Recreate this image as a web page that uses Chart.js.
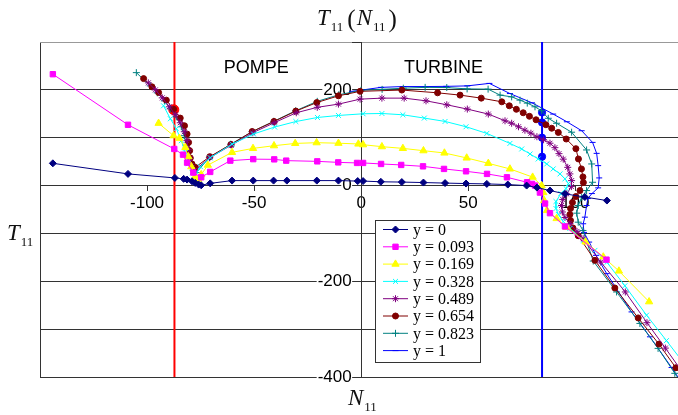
<!DOCTYPE html>
<html>
<head>
<meta charset="utf-8">
<script src="https://cdn.jsdelivr.net/npm/chart.js@4.4.0/dist/chart.umd.min.js"></script>
<style>
  html, body { margin: 0; padding: 0; background: #fff; }
  #wrap { width: 678px; height: 415px; }
</style>
</head>
<body>
<div id="wrap"><canvas id="c" width="678" height="415"></canvas></div>
<script>
// axes limits
const xMin = -150, xMax = 148;
const yMin = -400, yMax = 300;
const xTicks = [-150, -100, -50, 0, 50, 100];

// legend labels
const seriesLabels = ['y = 0', 'y = 0.093', 'y = 0.169', 'y = 0.328', 'y = 0.489', 'y = 0.654', 'y = 0.823', 'y = 1'];

// courbes T11(N11), points [N11, T11]
const serieY0 = [[-144,46.5],[-108.9,24.4],[-87,16],[-82.9,14],[-81.3,12.5],[-79,9],[-77.5,5.6],[-75.9,2.1],[-74.7,0.6],[-70.5,4.6],[-60.3,10.4],[-50.4,10.4],[-40.9,10.4],[-34.7,10.4],[-20.7,10.4],[-10.6,10.4],[-1.6,9.4],[0.9,9.4],[9.2,7.9],[19,7.3],[29.1,6.3],[39.2,5.2],[49,4.2],[58.7,3.5],[68.5,2.1],[77.3,0],[82.1,-4.2],[88.2,-10.4],[95.2,-17.3],[104.5,-24],[114.8,-31.3]];
const serieY093 = [[-144,232.7],[-108.9,127],[-87.3,76.5],[-83.2,64.6],[-81.3,47.9],[-78.4,27.1],[-74.7,17.3],[-70.5,28.5],[-61.1,52.1],[-50.4,55.2],[-40.6,54.8],[-35,52.1],[-20.5,50.6],[-10.7,48.5],[-1.9,47.3],[0.9,47.3],[9.3,45.2],[18.7,43.1],[28.9,40.2],[38.7,34.8],[49,29.8],[58.8,24.4],[68.1,17.3],[77.5,6.9],[79.8,3.5],[81.2,0],[83.5,-14.6],[85.9,-37.5],[88.2,-57.7],[95.2,-85.4],[114.6,-154.8]];
const serieY169 = [[-94.6,130.2],[-87.6,104.2],[-84.9,99],[-82.1,79.8],[-80.7,60.4],[-79.3,39.6],[-77.5,18.8],[-76.1,13.5],[-74.7,22.9],[-71.6,42.7],[-60.3,69.4],[-50.5,77.7],[-40.7,83.3],[-30.8,88.1],[-20.8,89.6],[-10.6,88.5],[-1.3,86.9],[0.9,85.4],[9.7,81.3],[19.5,77.7],[29.1,72.9],[38.9,68.1],[49.3,57.7],[59.4,46.5],[69.5,34.8],[80.1,17.7],[84.3,0],[85.1,-14.6],[85.5,-31.3],[86.8,-52.1],[91.3,-68.8],[96.1,-87.5],[104.8,-117.7],[113.1,-149],[120.4,-178.5],[134.5,-242.7]];
const serieY328 = [[-92.3,166.7],[-89.1,139.6],[-86.3,118.8],[-84,93.8],[-82.1,68.8],[-80.7,45.8],[-78.9,27.1],[-77.5,20.8],[-75.1,39.6],[-70.5,58.3],[-60.3,86.5],[-50.3,107.7],[-40.4,122.3],[-30.5,133.8],[-20.4,142.3],[-10.6,146.5],[0.9,150],[9.7,150.6],[19.5,147.9],[29.5,141],[39.2,134],[49,122.9],[58.7,109],[69.5,88.1],[75,76.5],[78.9,66],[82.7,55.6],[86.7,45.2],[89.7,34.8],[92.9,24.4],[95.2,14],[96.8,4.2],[95.7,-6.3],[93.3,-16.7],[91,-33.3],[91,-47.9],[92.1,-60.4],[94.4,-75],[97.5,-89.6],[103.7,-114.6],[109.2,-135.4],[114.8,-160.4],[123.2,-209.4],[133.3,-270.8],[142.6,-324],[151.7,-377]];
const serieY489 = [[-99.4,214.6],[-96.1,200],[-92.9,183.3],[-89.6,164.6],[-86.8,147.9],[-84.5,131.3],[-82.6,112.5],[-81.4,93.8],[-80.7,75],[-80,56.3],[-79.3,41.7],[-77.9,31.3],[-70.7,58.3],[-60.7,84.4],[-50.6,110.4],[-40.6,131.3],[-30.3,152.1],[-20.5,163.5],[-10.6,170.2],[-0.5,180.6],[9.7,182.7],[20.1,182.7],[30.3,177.1],[40,168.8],[49.6,159.8],[59.4,149.4],[67.2,135.4],[70.3,130.2],[73.5,122.9],[76.5,115.6],[79.3,109.4],[82.1,102.1],[85.2,95.8],[88.2,88.5],[90.5,79.2],[92.4,66.7],[94.4,55.2],[96.5,38.1],[97.5,24.4],[98.3,10.4],[98.2,-2.1],[96,-17.3],[94.2,-29.2],[93.6,-41.7],[94,-55.2],[95.2,-66.7],[97.5,-79.2],[100.8,-95.8],[103.7,-111],[111.9,-159.8],[123.4,-222.3],[133.5,-286.5],[142.1,-339.6],[150.7,-393.8]];
const serieY654 = [[-101.6,223.5],[-97.7,206.3],[-94.6,194.4],[-91,178.5],[-87.6,159.4],[-84.5,141],[-82.5,125],[-81.3,107.7],[-80.6,90.2],[-80.1,72.9],[-79.8,57.7],[-79,45.2],[-77.5,38.1],[-70.7,60.4],[-60.8,86],[-50.9,112.9],[-40.7,134],[-30.5,155.6],[-20.7,173.5],[-10.6,187.5],[-0.5,196.9],[19,199.6],[35.7,193.8],[46.2,189],[56.1,182.7],[65.7,175],[69.2,166.7],[72.5,159.4],[75.7,152.1],[78.6,144.8],[81.7,137.5],[86.3,127.1],[89,119.8],[92.1,111],[95.8,97.3],[100.3,77.1],[101.5,55.6],[102.9,34.8],[103.6,18.1],[103.8,6.3],[102.2,-10.4],[100.3,-22.9],[98.7,-35.4],[97.8,-47.9],[97.5,-60.4],[97.8,-72.9],[98.9,-88.5],[101.4,-104.8],[109.2,-156.3],[118.5,-214],[129.4,-276.5],[139.1,-331.3],[147,-380.6],[154.9,-427]];
const serieY823 = [[-105,236],[-98.5,208.3],[-95.2,193.8],[-91.9,177.1],[-89.1,160.4],[-86.3,143.8],[-84,122.9],[-82.6,104.2],[-81.7,83.3],[-80.7,62.5],[-79.8,45.8],[-78.4,31.3],[-77,27],[-70.9,58.3],[-60.9,86.5],[-50.9,112.5],[-40.8,134.4],[-30.6,156.3],[-20.5,176],[-10.5,189.6],[-0.1,199],[9.8,201],[19.7,203.5],[29.9,205.2],[40,204.8],[49.5,202],[59.3,201.5],[64.9,189],[70.3,185.4],[74.2,178.5],[77.6,172.3],[81.2,164.6],[84.2,156.3],[87.4,140.6],[91.3,130.2],[98.3,111.5],[105.3,74.4],[107.7,45.2],[108.1,6.9],[105.3,-10.4],[103,-24.4],[101.4,-41.7],[100.7,-57.7],[101.4,-76.5],[103.6,-93.8],[108.4,-157.7],[119.3,-222.3],[130.2,-288.1],[138.7,-340.2],[146.5,-392.3],[153.5,-437.5]];
const serieY1 = [[-4.2,196.9],[0,199.4],[9.3,205.2],[19.6,206.9],[29.9,206.9],[39.7,207.3],[49.6,208.3],[59.9,213.5],[69.5,192.3],[79.8,172.9],[89.7,149.4],[96.1,133.3],[103,114.6],[108.1,90.2],[110,67.3],[110.7,41.7],[111.2,16],[110.7,-4.8],[107.8,-16.7],[105.9,-27.1],[105.3,-41.7],[104.5,-66],[103.7,-79.8],[104.1,-97.9],[106.5,-118.1],[109.7,-145.8],[114.7,-184],[126.3,-264],[134.9,-316],[145,-380.2],[152.6,-431]];

// limites pompe / turbine et points remarquables
const limitePompe = -87.2;
const limiteTurbine = 84.5;
const pointsPompe = [[-87.5, 158.5]];
const pointsTurbine = [[84.5, 152.7], [84.5, 131.9], [84.5, 100], [84.5, 60.4]];

const allSeries = [serieY0, serieY093, serieY169, serieY328, serieY489, serieY654, serieY823, serieY1];
const seriesColors = ['#000080', '#FF00FF', '#FFFF00', '#00FFFF', '#800080', '#800000', '#008080', '#0000FF'];
const seriesMarkers = ['rectRot', 'rect', 'triangle', 'crossRot', 'star', 'circle', 'cross', 'line'];
const seriesRadius = [3.5, 3.8, 4.2, 3.5, 3.5, 3, 3.5, 3];

const datasets = allSeries.map((s, i) => ({
  label: seriesLabels[i],
  data: s,
  showLine: true,
  borderColor: seriesColors[i],
  backgroundColor: seriesColors[i],
  borderWidth: 1,
  pointStyle: seriesMarkers[i],
  pointRadius: seriesRadius[i],
  pointBorderColor: seriesColors[i],
  pointBackgroundColor: seriesColors[i],
  pointBorderWidth: 1,
  tension: 0
}));

datasets.push({
  label: 'limite pompe', data: [[limitePompe, yMin], [limitePompe, yMax]], showLine: true,
  borderColor: '#FF0000', borderWidth: 2, pointRadius: 0
});
datasets.push({
  label: 'limite turbine', data: [[limiteTurbine, yMin], [limiteTurbine, yMax]], showLine: true,
  borderColor: '#0000FF', borderWidth: 2, pointRadius: 0
});
datasets.push({
  label: 'pts pompe', data: pointsPompe, pointStyle: 'circle', pointRadius: 5,
  backgroundColor: '#FF0000', borderColor: '#FF0000'
});
datasets.push({
  label: 'pts turbine', data: pointsTurbine, pointStyle: 'circle', pointRadius: 3.6,
  backgroundColor: '#0000FF', borderColor: '#0000FF'
});

// texte avec indices (T11, N11)
function drawMath(ctx, x, y, parts) {
  parts.forEach(p => {
    ctx.font = p[1];
    ctx.fillText(p[0], x, y + (p[2] || 0));
    x += ctx.measureText(p[0]).width + (p[3] || 0);
  });
}

const it = 'italic 23px "Liberation Serif", "Times New Roman", serif';
const sub = '13px "Liberation Serif", "Times New Roman", serif';
const par = '25px "Liberation Serif", "Times New Roman", serif';

const decorPlugin = {
  id: 'decor',
  afterDraw(chart) {
    const ctx = chart.ctx;
    const sx = chart.scales.x, sy = chart.scales.y;
    ctx.save();
    ctx.fillStyle = '#111';
    ctx.textBaseline = 'alphabetic';
    ctx.textAlign = 'left';
    // titres
    drawMath(ctx, 317, 25, [['T', it, 0, 1], ['11', sub, 6, 4], ['(', par, 2, 1], ['N', it, 0, 1], ['11', sub, 6, 3], [')', par, 2]]);
    drawMath(ctx, 7, 240, [['T', it, 0, 1], ['11', sub, 6]]);
    drawMath(ctx, 348, 405, [['N', it, 0, 1], ['11', sub, 6]]);

    // zones
    ctx.font = '18px "Liberation Sans", Arial, sans-serif';
    ctx.textAlign = 'center';
    ctx.textBaseline = 'middle';
    ctx.fillStyle = '#000';
    ctx.fillText('POMPE', sx.getPixelForValue(-49), sy.getPixelForValue(246));
    ctx.fillText('TURBINE', sx.getPixelForValue(38.5), sy.getPixelForValue(245));

    // legende
    const bx = 375, by = 220, bw = 105, bh = 142;
    ctx.fillStyle = '#fff';
    ctx.fillRect(bx, by, bw, bh);
    ctx.strokeStyle = '#333';
    ctx.lineWidth = 1;
    ctx.strokeRect(bx + 0.5, by + 0.5, bw, bh);
    ctx.font = '16px "Liberation Serif", "Times New Roman", serif';
    ctx.textAlign = 'left';
    chart.data.datasets.slice(0, 8).forEach((ds, i) => {
      const ly = by + 9.5 + i * 17.3;
      ctx.strokeStyle = ds.borderColor;
      ctx.beginPath();
      ctx.moveTo(383, ly);
      ctx.lineTo(408, ly);
      ctx.stroke();
      ctx.fillStyle = ds.pointBackgroundColor;
      Chart.helpers.drawPoint(ctx, {pointStyle: ds.pointStyle, rotation: 0, radius: ds.pointRadius, borderWidth: 1}, 395.5, ly);
      ctx.fillStyle = '#000';
      ctx.fillText(ds.label, 413, ly + 1);
    });
    ctx.restore();
  }
};

new Chart(document.getElementById('c'), {
  type: 'scatter',
  data: { datasets: datasets },
  options: {
    responsive: false,
    animation: false,
    layout: { autoPadding: false, padding: { left: 40, top: 42, right: 0, bottom: 38 } },
    plugins: { legend: { display: false }, tooltip: { enabled: false } },
    scales: {
      x: {
        type: 'linear', min: xMin, max: xMax,
        position: { y: 0 },
        afterBuildTicks: scale => { scale.ticks = xTicks.map(v => ({ value: v })); },
        ticks: {
          autoSkip: false, maxRotation: 0,
          padding: 3, color: '#000',
          font: { family: '"Liberation Sans", Arial, sans-serif', size: 17 },
          callback: v => (v === xMin ? '' : String(v))
        },
        grid: {
          drawOnChartArea: true, tickLength: 5, tickColor: '#333',
          color: c => (c.tick && c.tick.value === xMin ? '#333' : 'rgba(0,0,0,0)')
        },
        border: { display: true, color: '#333', width: 1 }
      },
      y: {
        type: 'linear', min: yMin, max: yMax,
        position: { x: 0 },
        ticks: {
          stepSize: 100, color: '#000',
          font: { family: '"Liberation Sans", Arial, sans-serif', size: 17 },
          // deux espaces pour décoller le libellé de l'axe
          callback: v => (v % 200 === 0 ? String(v) + '  ' : ''),
          showLabelBackdrop: true,
          backdropColor: c => (c.tick && c.tick.value % 200 === 0 ? '#fff' : 'rgba(0,0,0,0)'),
          backdropPadding: { left: 1, right: -9, top: 0, bottom: 0 }
        },
        grid: {
          tickLength: 9, tickColor: '#333',
          color: c => (c.tick && c.tick.value === yMax ? '#999' : '#333')
        },
        border: { display: true, color: '#333', width: 1 }
      }
    }
  },
  plugins: [decorPlugin]
});
</script>
</body>
</html>
